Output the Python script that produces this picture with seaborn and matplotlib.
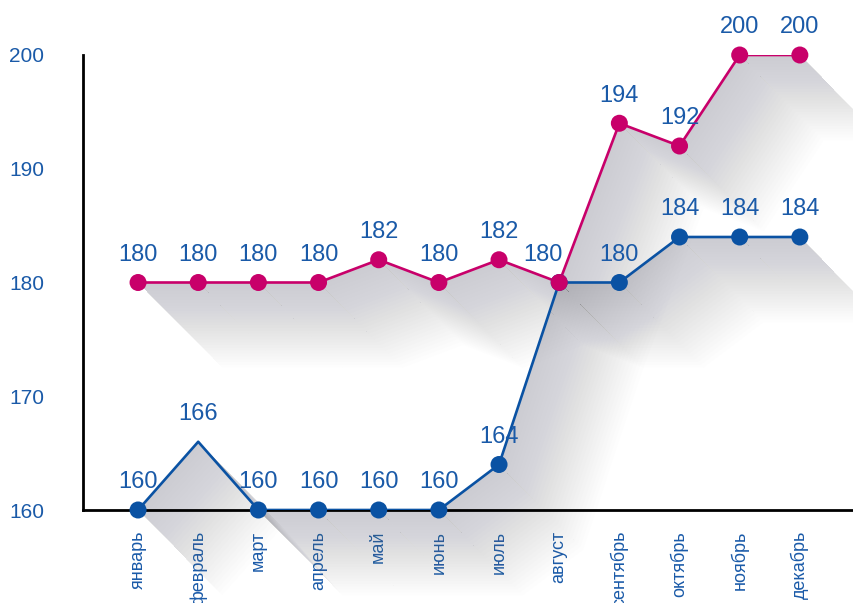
import numpy as np
import pandas as pd
import matplotlib
matplotlib.use("Agg")
import matplotlib.pyplot as plt
import seaborn as sns
from matplotlib.patches import Polygon

months = ["январь", "февраль", "март", "апрель", "май", "июнь", "июль",
          "август", "сентябрь", "октябрь", "ноябрь", "декабрь"]
pink_values = [180, 180, 180, 180, 182, 180, 182, 180, 194, 192, 200, 200]
blue_values = [160, 166, 160, 160, 160, 160, 164, 180, 180, 184, 184, 184]
blue_has_marker = [True, False, True, True, True, True, True, True, True, True, True, True]
blue_has_label = [True, True, True, True, True, True, True, False, True, True, True, True]
yticks = [160, 170, 180, 190, 200]

PINK = "#c8006a"
BLUE = "#0a52a3"
TEXT = "#1a5aa8"

sns.set_theme(style="white")
plt.rcParams['font.family'] = ['Liberation Sans Narrow', 'Liberation Sans', 'DejaVu Sans']

fig = plt.figure(figsize=(8.54, 6.03), dpi=100)
ax = fig.add_axes([83/854, (603-510)/603, 1-83/854, (510-55)/603])

x = np.arange(len(months))
df = pd.DataFrame({"x": x, "pink": pink_values, "blue": blue_values,
                   "bm": blue_has_marker})

# soft drop shadows (down-right), layered to fake a gradient
def shadow(xs, ys, dx=1.4, dy=-7.5, n=30, color=(0.5, 0.5, 0.55)):
    for k in range(1, n + 1):
        f = k / n
        for i in range(len(xs) - 1):
            p0 = (xs[i], ys[i]); p1 = (xs[i+1], ys[i+1])
            poly = Polygon([p0, p1, (p1[0]+dx*f, p1[1]+dy*f), (p0[0]+dx*f, p0[1]+dy*f)],
                           closed=True, facecolor=color, edgecolor='none',
                           alpha=0.010, zorder=1, clip_on=False)
            ax.add_patch(poly)

shadow(x, blue_values)
shadow(x, pink_values)

sns.lineplot(data=df, x="x", y="blue", color=BLUE, linewidth=1.9, ax=ax, zorder=3)
sns.lineplot(data=df, x="x", y="pink", color=PINK, linewidth=1.9, ax=ax, zorder=3)
sns.scatterplot(data=df[df["bm"]], x="x", y="blue", color=BLUE, s=150,
                edgecolor='none', ax=ax, zorder=4, clip_on=False)
sns.scatterplot(data=df, x="x", y="pink", color=PINK, s=150,
                edgecolor='none', ax=ax, zorder=5, clip_on=False)

for i, v in enumerate(pink_values):
    xo = -12 if i == 7 else 0
    ax.annotate(str(v), (i, v), xytext=(xo, 12), textcoords='offset points',
                ha='center', va='bottom', fontsize=17, color=TEXT, zorder=6)
for i, v in enumerate(blue_values):
    if blue_has_label[i]:
        ax.annotate(str(v), (i, v), xytext=(0, 12), textcoords='offset points',
                    ha='center', va='bottom', fontsize=17, color=TEXT, zorder=6)

ax.set_xlim(-0.915, 11.9)
ax.set_ylim(160, 200)
ax.set_xticks(x)
ax.set_xticklabels(months, rotation=90, va='top', ha='center', fontsize=13, color=TEXT)
ax.set_yticks(yticks)
ax.set_yticklabels([str(t) for t in yticks], fontsize=15, color=TEXT)
ax.tick_params(axis='x', length=0, pad=15)
ax.tick_params(axis='y', length=0, pad=28)
ax.set_xlabel("")
ax.set_ylabel("")
for s in ["top", "right"]:
    ax.spines[s].set_visible(False)
for s in ["left", "bottom"]:
    ax.spines[s].set_color("black")
    ax.spines[s].set_linewidth(2)
    ax.spines[s].set_zorder(2)
ax.patch.set_alpha(0)

fig.savefig("out.png", dpi=100)
